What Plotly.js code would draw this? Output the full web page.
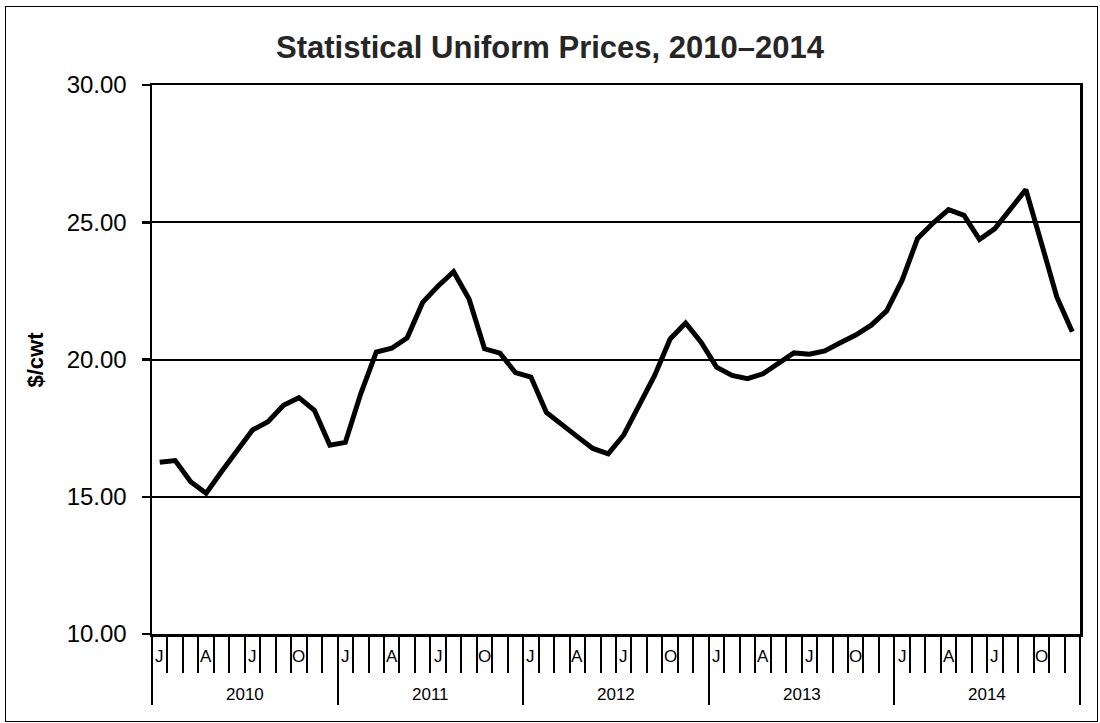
<!DOCTYPE html>
<html>
<head>
<meta charset="utf-8">
<script src="https://cdn.plot.ly/plotly-3.0.1.min.js"></script>
<style>
  html, body { margin: 0; padding: 0; background: #fff; }
  #wrap { position: relative; width: 1100px; height: 723px; }
  #chart { width: 1100px; height: 723px; }
  #frame { position: absolute; left: 5px; top: 6px; width: 1091px; height: 714px;
           border: 1.5px solid #000; pointer-events: none; }
</style>
</head>
<body>
<div id="wrap">
  <div id="chart"></div>
  <div id="frame"></div>
</div>
<script>
// ---- data ----
const years = ["2010", "2011", "2012", "2013", "2014"];
const monthLetters = ["J", "", "", "A", "", "", "J", "", "", "O", "", ""];
const prices2010 = [16.26, 16.32, 15.55, 15.13, 15.92, 16.70, 17.43, 17.73, 18.33, 18.61, 18.15, 16.88];
const prices2011 = [16.98, 18.76, 20.27, 20.41, 20.79, 22.08, 22.68, 23.20, 22.20, 20.39, 20.23, 19.52];
const prices2012 = [19.36, 18.07, 17.61, 17.19, 16.76, 16.56, 17.25, 18.33, 19.42, 20.75, 21.33, 20.63];
const prices2013 = [19.72, 19.42, 19.30, 19.48, 19.84, 20.24, 20.19, 20.31, 20.61, 20.89, 21.25, 21.77];
const prices2014 = [22.89, 24.41, 24.97, 25.46, 25.25, 24.37, 24.77, 25.46, 26.19, 24.25, 22.28, 21.01];
const yTicks = [10, 15, 20, 25, 30];

// ---- build ----
const allPrices = [].concat(prices2010, prices2011, prices2012, prices2013, prices2014);
const xPos = allPrices.map((v, i) => i + 0.5);
const nMonths = allPrices.length;
const monthBounds = Array.from({length: nMonths + 1}, (_, i) => i);
const yearBounds = years.map((y, i) => i * 12).concat([years.length * 12]);

const FONT = "Liberation Sans, Arial, sans-serif";

const annotations = [];
years.forEach((yr, yi) => {
  monthLetters.forEach((m, mi) => {
    if (m) {
      annotations.push({
        x: yi * 12 + mi + 0.5, y: 0, xref: "x", yref: "paper",
        text: m, showarrow: false, yanchor: "middle", xanchor: "center",
        yshift: -22, font: {family: FONT, size: 17, color: "#000"}
      });
    }
  });
  annotations.push({
    x: yi * 12 + 6, y: 0, xref: "x", yref: "paper",
    text: yr, showarrow: false, yanchor: "middle", xanchor: "center",
    yshift: -60, font: {family: FONT, size: 17, color: "#000"}
  });
});
annotations.push({
  x: 0, y: 0.5, xref: "paper", yref: "paper", xshift: -117,
  text: "<b>$/cwt</b>", textangle: -90, showarrow: false,
  xanchor: "center", yanchor: "middle",
  font: {family: FONT, size: 22, color: "#000"}
});

const trace = {
  x: xPos, y: allPrices, type: "scatter", mode: "lines",
  line: {color: "#000", width: 5},
  hoverinfo: "y", showlegend: false
};
const yearTickTrace = {
  x: [0, 60], y: [10, 10], xaxis: "x2", yaxis: "y", type: "scatter",
  mode: "lines", line: {width: 0}, hoverinfo: "skip", showlegend: false
};

const layout = {
  width: 1100, height: 723,
  margin: {l: 152, r: 20, t: 85, b: 89},
  paper_bgcolor: "#fff", plot_bgcolor: "#fff",
  title: {
    text: "Statistical Uniform Prices, 2010\u20132014",
    font: {family: FONT, size: 31, weight: "bold", color: "#262626"},
    xref: "container", x: 0.5, xanchor: "center",
    yref: "container", y: 1 - 47 / 723, yanchor: "middle"
  },
  xaxis: {
    range: [0, nMonths], showgrid: false, zeroline: false,
    tickmode: "array", tickvals: monthBounds, showticklabels: false,
    ticks: "outside", ticklen: 36, tickwidth: 2, tickcolor: "#000",
    showline: true, linecolor: "#000", linewidth: 2.5, mirror: true,
    fixedrange: true
  },
  xaxis2: {
    overlaying: "x", matches: "x", anchor: "y", side: "bottom",
    range: [0, nMonths], showgrid: false, zeroline: false,
    tickmode: "array", tickvals: yearBounds, showticklabels: false,
    ticks: "outside", ticklen: 70, tickwidth: 2, tickcolor: "#000",
    showline: false
  },
  yaxis: {
    range: [10, 30], tickmode: "array", tickvals: yTicks,
    tickformat: ".2f", ticks: "outside", ticklen: 8, tickwidth: 2.5, tickcolor: "#000",
    showgrid: true, gridcolor: "#000", gridwidth: 2, zeroline: false,
    showline: true, linecolor: "#000", linewidth: 2.5, mirror: true,
    ticklabelstandoff: 10,
    tickfont: {family: FONT, size: 24, color: "#000"},
    fixedrange: true
  },
  annotations: annotations
};

Plotly.newPlot("chart", [trace, yearTickTrace], layout, {displayModeBar: false, staticPlot: true});
</script>
</body>
</html>
